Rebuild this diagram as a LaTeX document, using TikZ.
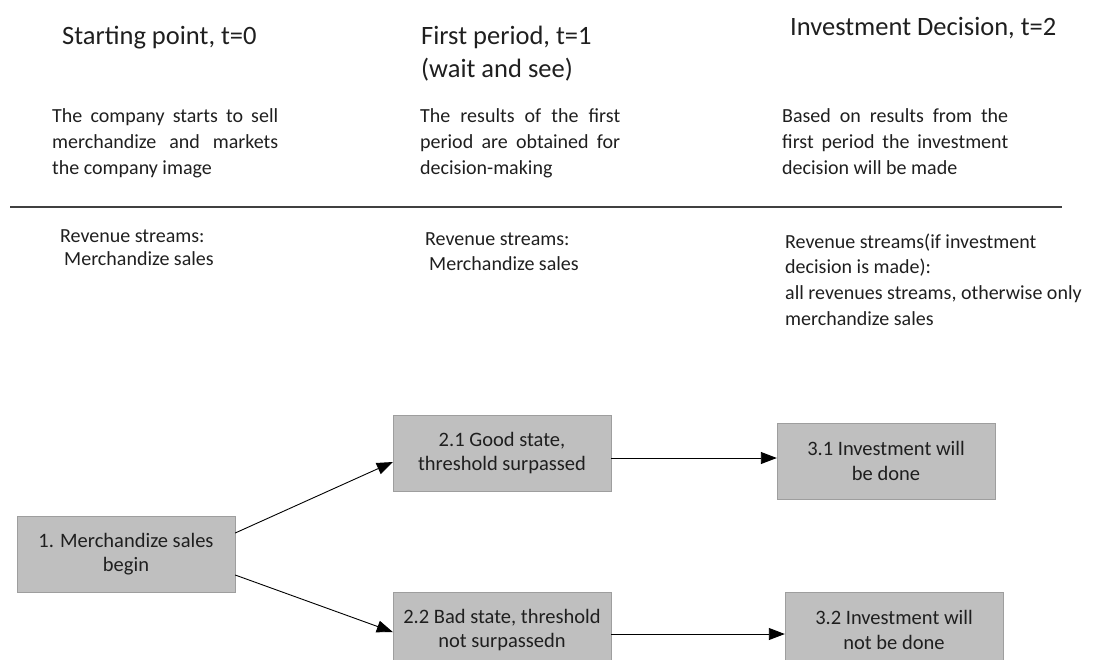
\documentclass[tikz,border=0pt]{standalone}
\usepackage{fontspec}
\setmainfont{Carlito}
\usetikzlibrary{arrows.meta}
\newcommand{\jline}[2]{\makebox[#1][s]{#2}}
\begin{document}
\begin{tikzpicture}[x=1pt,y=-1pt,
  title/.style={font=\fontsize{26.5}{33}\selectfont, anchor=base west, inner sep=0pt, align=left, text=black!88},
  body/.style={font=\fontsize{20}{25.6}\selectfont, anchor=base west, inner sep=0pt, align=left, text=black!88},
  box/.style={draw=black!38, fill=black!25, minimum width=218pt, minimum height=76pt, align=center, font=\fontsize{20.5}{24.5}\selectfont, inner sep=0pt, text=black!88},
  arr/.style={-{Triangle[length=16pt,width=12pt]}, line width=0.9pt, draw=black}]
\useasboundingbox (0,0) rectangle (1094,659);
% column headings (base anchor = baseline of the last line)
\node[title] (t0) at (62,44) {Starting point, t=0};
\node[title] (t1) at (421,77) {First period, t=1\\(wait and see)};
\node[title] (t2) at (790,35) {Investment Decision, t=2};
% descriptions
\node[body] (d0) at (52,174) {\jline{226pt}{The company starts to sell}\\\jline{226pt}{merchandize and markets}\\the company image};
\node[body] (d1) at (420,174) {\jline{200pt}{The results of the first}\\\jline{200pt}{period are obtained for}\\decision-making};
\node[body] (d2) at (782,174) {\jline{226pt}{Based on results from the}\\\jline{226pt}{first period the investment}\\decision will be made};
% separator
\coordinate (l0) at (10,207);
\coordinate (l1) at (1062,207);
\draw[line width=1.5pt, black!75] (l0) -- (l1);
% revenue streams
\node[body, font=\fontsize{20}{23}\selectfont] (r0) at (60,265) {Revenue streams:\\\hspace*{4pt}Merchandize sales};
\node[body, font=\fontsize{20}{25}\selectfont] (r1) at (425,270) {Revenue streams:\\\hspace*{4pt}Merchandize sales};
\node[body] (r2) at (785,325) {Revenue streams(if investment\\decision is made):\\all revenues streams, otherwise only\\merchandize sales};
% boxes
\node[box] (b1) at (126,554) {1. Merchandize sales\\begin};
\node[box] (b21) at (502,453) {2.1 Good state,\\threshold surpassed};
\node[box] (b22) at (502,630) {2.2 Bad state, threshold\\not surpassedn};
\node[box] (b31) at (886,461) {3.1 Investment will\\be done};
\node[box] (b32) at (894,630) {3.2 Investment will\\not be done};
% arrows
\draw[arr] ([yshift=21pt]b1.east) -- ([yshift=-9pt]b21.west);
\draw[arr] ([yshift=-21pt]b1.east) -- ([yshift=-2pt]b22.west);
\coordinate (h1) at ([yshift=-5pt]b21.east);
\coordinate (h2) at ([yshift=-4pt]b22.east);
\draw[arr] (h1) -- (h1 -| b31.west);
\draw[arr] (h2) -- (h2 -| b32.west);
\end{tikzpicture}
\end{document}
